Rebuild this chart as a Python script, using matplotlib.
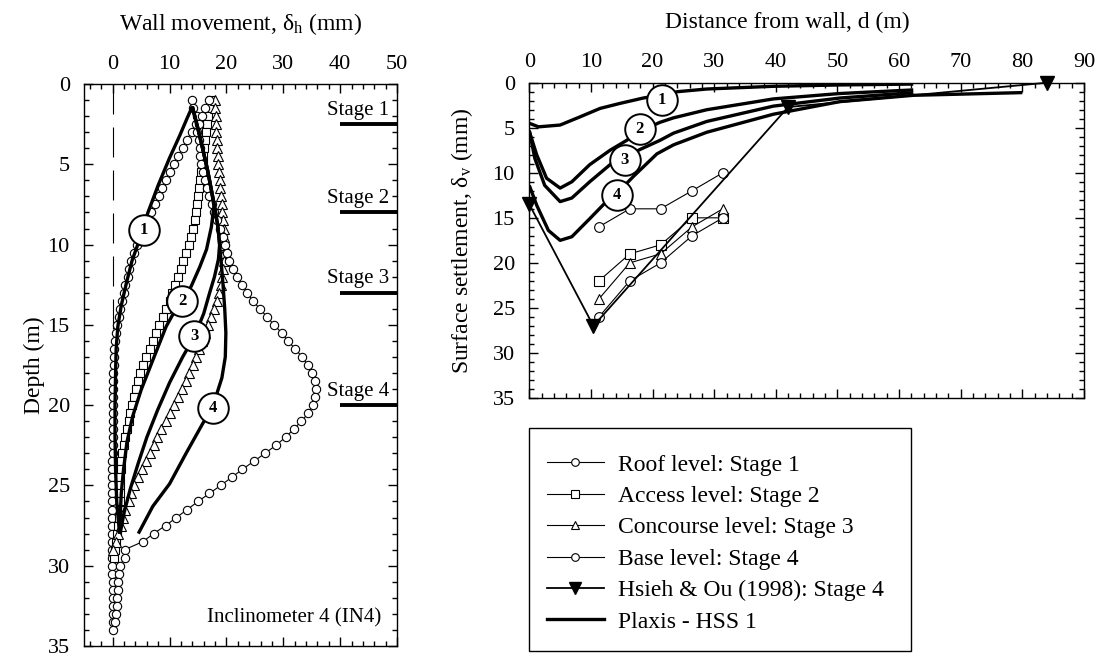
import matplotlib
matplotlib.use("Agg")
import matplotlib.pyplot as plt
from matplotlib.lines import Line2D
from matplotlib.patches import Rectangle
from matplotlib.ticker import MultipleLocator

plt.rcParams['font.family'] = ['Liberation Serif', 'DejaVu Serif']
plt.rcParams['mathtext.fontset'] = 'custom'
plt.rcParams['mathtext.rm'] = 'Liberation Serif'
plt.rcParams['mathtext.it'] = 'Liberation Serif:italic'
plt.rcParams['mathtext.bf'] = 'Liberation Serif:bold'

# ---------------- Inclinometer IN4: wall movement (mm) vs depth (m) ----------------
reading_depth = [1.0, 1.5, 2.0, 2.5, 3.0, 3.5, 4.0, 4.5, 5.0, 5.5,
                 6.0, 6.5, 7.0, 7.5, 8.0, 8.5, 9.0, 9.5, 10.0, 10.5,
                 11.0, 11.5, 12.0, 12.5, 13.0, 13.5, 14.0, 14.5, 15.0, 15.5,
                 16.0, 16.5, 17.0, 17.5, 18.0, 18.5, 19.0, 19.5, 20.0, 20.5,
                 21.0, 21.5, 22.0, 22.5, 23.0, 23.5, 24.0, 24.5, 25.0, 25.5,
                 26.0, 26.5, 27.0, 27.5, 28.0, 28.5, 29.0, 29.5, 30.0, 30.5,
                 31.0, 31.5, 32.0, 32.5, 33.0, 33.5, 34.0]

roof_dh = [14.0, 14.1, 14.8, 14.6, 13.9, 13.0, 12.3, 11.5, 10.8, 10.0,
           9.4, 8.7, 8.1, 7.5, 6.8, 6.1, 5.4, 4.8, 4.3, 3.8,
           3.3, 2.9, 2.6, 2.2, 1.9, 1.6, 1.3, 1.1, 0.8, 0.6,
           0.4, 0.3, 0.2, 0.2, 0.1, 0.1, 0.1, 0.1, 0.0, 0.0,
           0.0, 0.0, 0.0, 0.0, 0.0, -0.1, -0.1, -0.1, -0.1, -0.1,
           -0.1, -0.1, -0.1, -0.2, -0.2, -0.2, -0.1, -0.1, -0.1, -0.1,
           0.0, 0.0, 0.0, 0.0, 0.0, 0.0, 0.0]

access_dh = [17.3, 17.0, 16.8, 16.6, 16.4, 16.2, 16.0, 15.9, 15.8, 15.6,
             15.4, 15.2, 15.0, 14.9, 14.7, 14.4, 14.1, 13.8, 13.4, 12.9,
             12.4, 12.0, 11.5, 11.0, 10.5, 10.0, 9.4, 8.8, 8.2, 7.6,
             7.0, 6.5, 5.9, 5.4, 4.8, 4.5, 4.1, 3.7, 3.4, 3.1,
             2.8, 2.5, 2.2, 1.9, 1.7, 1.5, 1.4, 1.3, 1.2, 1.2,
             1.2, 1.2, 1.1, 1.0, 0.8, 0.6, 0.4, 0.2]

concourse_dh = [18.0, 18.0, 18.1, 18.1, 18.2, 18.3, 18.4, 18.5, 18.6, 18.7,
                18.8, 18.9, 19.1, 19.2, 19.3, 19.4, 19.5, 19.6, 19.6, 19.6,
                19.5, 19.4, 19.2, 19.0, 18.7, 18.4, 17.8, 17.2, 16.7, 16.2,
                15.7, 15.2, 14.6, 14.1, 13.5, 12.8, 12.1, 11.4, 10.7, 10.0,
                9.3, 8.5, 7.8, 7.2, 6.5, 5.9, 5.1, 4.4, 3.8, 3.3,
                2.8, 2.2, 1.8, 1.4, 1.0, 0.6, 0.1]

base_dh = [17.0, 16.2, 15.7, 15.1, 14.9, 15.1, 15.3, 15.4, 15.5, 15.8,
           16.2, 16.6, 17.0, 17.4, 17.8, 18.4, 18.9, 19.4, 19.8, 20.1,
           20.5, 21.1, 21.8, 22.8, 23.7, 24.6, 25.9, 27.1, 28.4, 29.7,
           30.8, 32.1, 33.3, 34.3, 35.1, 35.6, 35.7, 35.6, 35.3, 34.4,
           33.2, 31.8, 30.4, 28.7, 26.8, 24.8, 22.8, 20.9, 19.0, 17.0,
           15.0, 13.1, 11.2, 9.3, 7.2, 5.3, 2.1, 2.2, 1.2, 1.1,
           1.0, 0.9, 0.8, 0.7, 0.6, 0.4]

# Plaxis HSS predictions of wall deflection, stages 1-4
hss_wall_x = [
    [14.0, 13.0, 11.8, 10.0, 8.0, 6.2, 4.7, 3.4, 2.4, 1.5, 0.9, 0.6, 0.5, 0.4, 0.4, 0.5, 0.7, 1.2],
    [14.0, 15.0, 15.9, 16.7, 17.35, 17.8, 17.35, 16.5, 15.3, 13.8, 12.2, 10.5, 9.4, 7.05, 5.0,
     3.5, 2.5, 1.9, 1.5, 1.3, 1.2],
    [14.0, 15.0, 15.9, 16.7, 17.35, 18.0, 18.5, 18.8, 18.6, 17.9, 17.05, 16.0, 14.4, 12.3, 10.0,
     7.9, 6.0, 4.5, 3.1, 2.0, 1.3],
    [14.0, 15.0, 15.9, 16.7, 17.35, 18.0, 18.5, 18.8, 19.1, 19.4, 19.7, 19.9, 19.8, 19.2, 18.3,
     17.6, 15.9, 12.9, 10.0, 7.05, 4.5],
]
hss_wall_depth = [
    [1.4, 2.2, 3.2, 4.6, 6.3, 8.0, 9.7, 11.0, 12.4, 13.8, 15.1, 16.5, 18.0, 20.0, 22.0, 24.0, 26.0, 28.0],
    [1.4, 2.8, 4.15, 5.4, 6.6, 7.6, 8.9, 10.3, 11.4, 12.6, 13.5, 14.4, 15.1, 17.2, 19.05,
     20.7, 22.3, 24.0, 25.5, 27.0, 28.0],
    [1.4, 2.8, 4.15, 5.4, 6.6, 7.8, 8.9, 10.0, 10.9, 12.0, 13.0, 14.3, 15.7, 17.0, 18.6,
     20.3, 22.0, 23.6, 25.2, 26.7, 28.0],
    [1.4, 2.8, 4.15, 5.4, 6.6, 7.8, 8.9, 10.0, 11.2, 12.5, 14.0, 15.5, 17.0, 18.3, 19.3,
     20.2, 21.1, 23.0, 24.9, 26.3, 28.0],
]
wall_tag_x = [5.5, 12.2, 14.3, 17.6]
wall_tag_depth = [9.1, 13.5, 15.7, 20.2]

stage_names = ['Stage 1', 'Stage 2', 'Stage 3', 'Stage 4']
stage_depth = [2.5, 8.0, 13.0, 20.0]

# ---------------- Surface settlement (mm) vs distance from wall (m) ----------------
survey_d = [11.3, 16.3, 21.3, 26.4, 31.4]
roof_dv = [16.0, 14.0, 14.0, 12.0, 10.0]
access_dv = [22.0, 19.0, 18.0, 15.0, 15.0]
concourse_dv = [24.0, 20.0, 19.0, 16.0, 14.0]
base_dv = [26.0, 22.0, 20.0, 17.0, 15.0]

hsieh_d = [0.0, 10.4, 42.0, 84.0]
hsieh_dv = [13.5, 27.0, 2.7, 0.0]

hss_surf_d = [
    [0.0, 1.5, 5.0, 8.2, 11.5, 14.7, 18.5, 21.5, 24.0, 28.8, 39.6, 50.4, 62.3],
    [0.0, 1.2, 2.8, 5.0, 6.9, 9.8, 13.1, 15.8, 17.9, 21.2, 23.4, 28.8, 39.6, 50.4, 62.3],
    [0.0, 0.9, 2.5, 5.0, 6.9, 9.8, 13.1, 15.5, 18.0, 21.2, 23.4, 28.8, 39.6, 50.4, 62.3],
    [0.0, 1.2, 3.1, 5.0, 6.9, 9.8, 12.5, 14.2, 16.9, 20.7, 23.4, 28.8, 39.6, 50.4, 62.3, 80.0],
]
hss_surf_dv = [
    [4.5, 4.9, 4.7, 3.8, 2.85, 2.3, 1.7, 1.35, 1.0, 0.7, 0.4, 0.25, 0.15],
    [5.4, 8.0, 10.6, 11.7, 11.0, 9.1, 7.5, 6.4, 5.4, 4.4, 3.9, 3.0, 1.8, 1.2, 0.8],
    [5.3, 8.4, 11.4, 13.2, 12.8, 11.0, 9.1, 8.3, 7.4, 6.4, 5.6, 4.3, 2.6, 1.7, 1.1],
    [11.4, 13.6, 16.4, 17.5, 17.1, 15.1, 13.2, 12.3, 10.4, 7.9, 6.9, 5.5, 3.5, 2.1, 1.4, 1.1],
]
surf_tag_x = [21.5, 17.9, 15.5, 14.2]
surf_tag_dv = [1.9, 5.1, 8.6, 12.5]

legend_labels = ['Roof level: Stage 1', 'Access level: Stage 2', 'Concourse level: Stage 3',
                 'Base level: Stage 4', 'Hsieh & Ou (1998): Stage 4', 'Plaxis - HSS 1']

W, H = 1103, 659
fig = plt.figure(figsize=(W / 100, H / 100), dpi=100)


def px_rect(x0, y0, x1, y1):
    return [x0 / W, 1 - y1 / H, (x1 - x0) / W, (y1 - y0) / H]


ax1 = fig.add_axes(px_rect(84.3, 84.0, 397.0, 646.0))
ax2 = fig.add_axes(px_rect(529.3, 82.7, 1084.0, 398.0))

TICK_FS = 16
LABEL_FS = 17


def style_axes(ax):
    ax.tick_params(which='both', direction='in', top=True, bottom=True, left=True, right=True,
                   labeltop=True, labelbottom=False, labelsize=TICK_FS, width=1.0)
    ax.tick_params(which='major', length=6.5)
    ax.tick_params(which='minor', length=3.5)
    ax.tick_params(axis='x', which='major', pad=7.5)
    ax.tick_params(axis='y', which='major', pad=10.4)
    for s in ax.spines.values():
        s.set_linewidth(1.0)
    ax.xaxis.set_label_position('top')


def circled(ax, x, y, n):
    ax.plot([x], [y], marker='o', ms=22, mfc='white', mec='k', mew=1.4, zorder=6, clip_on=False)
    ax.text(x, y, str(n), ha='center', va='center', fontsize=12, fontweight='bold', zorder=7)


thin = dict(color='k', lw=0.8, mfc='white', mec='k', mew=0.8)

# ---- left: wall deflection profiles ----
ax1.plot([0, 0], [0, 15.3], color='k', lw=0.8, linestyle=(0, (27, 11.7)), zorder=1)
ax1.plot(roof_dh, reading_depth[:len(roof_dh)], marker='o', ms=6, **thin, zorder=2)
ax1.plot(access_dh, reading_depth[:len(access_dh)], marker='s', ms=5.5, **thin, zorder=2)
ax1.plot(concourse_dh, reading_depth[:len(concourse_dh)], marker='^', ms=6.5, **thin, zorder=2)
ax1.plot(base_dh, reading_depth[:len(base_dh)], marker='o', ms=6, **thin, zorder=2)
for xs, ds in zip(hss_wall_x, hss_wall_depth):
    ax1.plot(xs, ds, color='k', lw=2.4, solid_capstyle='butt', zorder=4)
for i, (x, d) in enumerate(zip(wall_tag_x, wall_tag_depth)):
    circled(ax1, x, d, i + 1)

for name, d in zip(stage_names, stage_depth):
    ax1.plot([40, 50], [d, d], color='k', lw=2.8, solid_capstyle='butt', clip_on=False, zorder=3)
    ax1.text(48.6, d - 0.6, name, ha='right', va='baseline', fontsize=15)
ax1.text(47.2, 33.25, 'Inclinometer 4 (IN4)', ha='right', va='center', fontsize=15)

ax1.set_xlim(-5, 50)
ax1.set_ylim(35, 0)
ax1.set_xticks([0, 10, 20, 30, 40, 50])
ax1.xaxis.set_minor_locator(MultipleLocator(2))
ax1.set_yticks([0, 5, 10, 15, 20, 25, 30, 35])
ax1.yaxis.set_minor_locator(MultipleLocator(1))
style_axes(ax1)
ax1.set_xlabel(r'Wall movement, δ$_\mathrm{h}$ (mm)', fontsize=LABEL_FS, labelpad=17.5)
ax1.set_ylabel('Depth (m)', fontsize=LABEL_FS, labelpad=2)

# ---- right: surface settlement troughs ----
ax2.plot(survey_d, roof_dv, marker='o', ms=7, **thin, zorder=3)
ax2.plot(survey_d, access_dv, marker='s', ms=7, **thin, zorder=3)
ax2.plot(survey_d, concourse_dv, marker='^', ms=7.5, **thin, zorder=3)
ax2.plot(survey_d, base_dv, marker='o', ms=7, **thin, zorder=3)
ax2.plot(hsieh_d, hsieh_dv, color='k', lw=1.3, marker='v', ms=10, mfc='k', mec='k',
         clip_on=False, zorder=4)
for xs, ys in zip(hss_surf_d, hss_surf_dv):
    ax2.plot(xs, ys, color='k', lw=2.4, solid_capstyle='butt', zorder=4)
for i, (x, v) in enumerate(zip(surf_tag_x, surf_tag_dv)):
    circled(ax2, x, v, i + 1)

ax2.set_xlim(0, 90)
ax2.set_ylim(35, 0)
ax2.set_xticks(range(0, 91, 10))
ax2.xaxis.set_minor_locator(MultipleLocator(2))
ax2.set_yticks([0, 5, 10, 15, 20, 25, 30, 35])
ax2.yaxis.set_minor_locator(MultipleLocator(1))
style_axes(ax2)
ax2.set_xlabel('Distance from wall, d (m)', fontsize=LABEL_FS)
ax2.xaxis.set_label_coords(0.465, 1.1725)
ax2.set_ylabel(r'Surface settlement, δ$_\mathrm{v}$ (mm)', fontsize=LABEL_FS, labelpad=12.7)

# ---- legend ----
handles = [
    Line2D([], [], marker='o', ms=5.5, **thin),
    Line2D([], [], marker='s', ms=5.5, **thin),
    Line2D([], [], marker='^', ms=6, **thin),
    Line2D([], [], marker='o', ms=5.5, **thin),
    Line2D([], [], color='k', lw=1.3, marker='v', ms=9, mfc='k', mec='k'),
    Line2D([], [], color='k', lw=2.4),
]
fig.legend(handles, legend_labels, loc='upper left', bbox_to_anchor=(547 / W, 1 - 454 / H),
           frameon=False, fontsize=LABEL_FS, handlelength=2.4, handletextpad=0.6,
           labelspacing=0.42, borderpad=0, borderaxespad=0, numpoints=1)
fig.add_artist(Rectangle((529 / W, 1 - 651 / H), 382 / W, 223 / H, transform=fig.transFigure,
                         fill=False, ec='k', lw=1.0))

fig.savefig('out.png', dpi=100)
